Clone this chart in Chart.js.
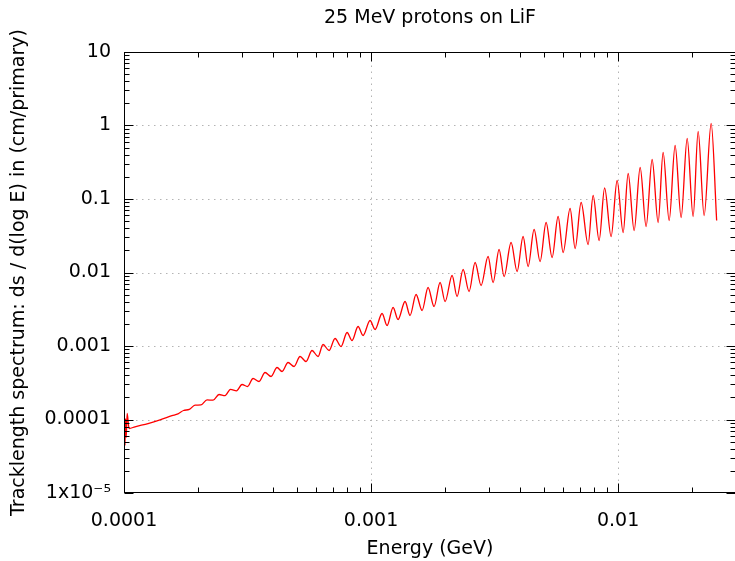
<!DOCTYPE html>
<html>
<head>
<meta charset="utf-8">
<title>25 MeV protons on LiF</title>
<script src="https://cdn.jsdelivr.net/npm/chart.js@4.4.1/dist/chart.umd.min.js"></script>
<style>
    html, body { margin: 0; padding: 0; background: #fff; overflow: hidden; }
    #wrap { width: 737px; height: 561px; }
</style>
</head>
<body>
<div id="wrap"><canvas id="chart" width="737" height="561"></canvas></div>
<script>
// Energy (GeV) and tracklength (cm/primary), peak/trough by peak/trough
const energy = [
    0.00010019, 0.00010056, 0.00010094, 0.00010141, 0.00010207, 0.0001030, 0.0001048,
    0.0001108, 0.0001251, 0.0001399, 0.0001564, 0.0001654, 0.0001741, 0.0001838,
    0.0001939, 0.0002050, 0.0002168, 0.0002293, 0.0002424, 0.0002564, 0.0002699,
    0.0002854, 0.0003004, 0.0003162, 0.0003329, 0.0003520, 0.0003723, 0.0003937,
    0.0004163, 0.0004362, 0.0004613, 0.0004878, 0.0005159, 0.0005455, 0.0005769,
    0.0006101, 0.0006392, 0.0006760, 0.0007149, 0.0007560, 0.0007995, 0.0008377,
    0.0008858, 0.0009281, 0.0009907, 0.001038, 0.001108, 0.001161, 0.001228,
    0.001286, 0.001373, 0.001438, 0.001521, 0.001609, 0.001701, 0.001799,
    0.001903, 0.001994, 0.002128, 0.002229, 0.002358, 0.002493, 0.002637,
    0.002788, 0.002976, 0.003118, 0.003298, 0.003455, 0.003688, 0.003900,
    0.004125, 0.004322, 0.004570, 0.004833, 0.005111, 0.005405, 0.005716,
    0.005989, 0.006392, 0.006698, 0.007083, 0.007560, 0.007921, 0.008377,
    0.008817, 0.009368, 0.009907, 0.01048, 0.01098, 0.01161, 0.01228,
    0.01298, 0.01373, 0.01452, 0.01521, 0.01609, 0.01701, 0.01799,
    0.01903, 0.02012, 0.02108, 0.02229, 0.02380, 0.02505
];
const tracklength = [
    3.67e-5, 8.55e-5, 4.43e-5, 1.03e-4, 5.69e-5, 1.207e-4, 7.54e-5,
    7.96e-5, 8.82e-5, 9.85e-5, 1.127e-4, 1.196e-4, 1.326e-4, 1.372e-4,
    1.565e-4, 1.579e-4, 1.848e-4, 1.830e-4, 2.188e-4, 2.114e-4, 2.576e-4,
    2.458e-4, 2.994e-4, 2.812e-4, 3.612e-4, 3.289e-4, 4.361e-4, 3.846e-4,
    5.099e-4, 4.499e-4, 5.964e-4, 5.261e-4, 7.196e-4, 6.153e-4, 8.686e-4,
    7.196e-4, 1.048e-3, 8.686e-4, 1.265e-3, 9.844e-4, 1.527e-3, 1.188e-3,
    1.842e-3, 1.390e-3, 2.223e-3, 1.677e-3, 2.768e-3, 1.901e-3, 3.341e-3,
    2.294e-3, 4.031e-3, 2.600e-3, 5.020e-3, 3.041e-3, 6.250e-3, 3.447e-3,
    7.310e-3, 4.031e-3, 9.103e-3, 4.715e-3, 1.099e-2, 5.514e-3, 1.368e-2,
    6.654e-3, 1.651e-2, 7.310e-3, 2.056e-2, 8.822e-3, 2.560e-2, 1.032e-2,
    3.089e-2, 1.207e-2, 3.846e-2, 1.412e-2, 4.790e-2, 1.600e-2, 5.779e-2,
    1.871e-2, 7.425e-2, 2.121e-2, 8.962e-2, 2.404e-2, 0.1116, 2.725e-2,
    0.1412, 3.089e-2, 0.1785, 3.501e-2, 0.2223, 3.728e-2, 0.2683,
    4.226e-2, 0.3447, 4.790e-2, 0.4293, 5.099e-2, 0.5345, 5.602e-2,
    0.6654, 5.779e-2, 0.8287, 5.964e-2, 1.065, 5.099e-2
];

// Axis ticks
const xTicks = [0.0001, 0.001, 0.01];
const xTickLabels = ['0.0001', '0.001', '0.01'];
const yTicks = [1e-5, 1e-4, 1e-3, 0.01, 0.1, 1, 10];
const yTickLabels = ['1x10\u207B\u2075', '0.0001', '0.001', '0.01', '0.1', '1', '10'];

const X_MIN = 0.0001, X_MAX = 0.03;
const Y_MIN = 1e-5, Y_MAX = 10;

Chart.defaults.font.family = "'DejaVu Sans', sans-serif";
Chart.defaults.font.size = 19;
Chart.defaults.color = '#000';

// gnuplot style box: dotted grid at decades, inward ticks on all four sides
const framePlugin = {
    id: 'frame',
    beforeDatasetsDraw(chart) {
        const { ctx, chartArea: a, scales: { x, y } } = chart;
        ctx.save();
        ctx.strokeStyle = '#b4b4b4';
        ctx.lineWidth = 1;
        ctx.setLineDash([1.5, 4.5]);
        xTicks.forEach(v => {
            if (v <= X_MIN) return;
            const px = Math.round(x.getPixelForValue(v)) + 0.5;
            ctx.beginPath(); ctx.moveTo(px, a.bottom); ctx.lineTo(px, a.top); ctx.stroke();
        });
        yTicks.forEach(v => {
            if (v <= Y_MIN || v >= Y_MAX) return;
            const py = Math.round(y.getPixelForValue(v)) + 0.5;
            ctx.beginPath(); ctx.moveTo(a.left, py); ctx.lineTo(a.right, py); ctx.stroke();
        });
        ctx.restore();
    },
    afterDatasetsDraw(chart) {
        const { ctx, chartArea: a, scales: { x, y } } = chart;
        const L = Math.round(a.left) + 0.5, R = Math.round(a.right) - 0.5;
        const T = Math.round(a.top) + 0.5, B = Math.round(a.bottom) - 0.5;
        ctx.save();
        ctx.strokeStyle = '#000';
        ctx.lineWidth = 1;
        ctx.beginPath();
        for (let d = -5; d <= 1; d++) {
            for (let k = 1; k <= 9; k++) {
                const v = k * Math.pow(10, d);
                const len = k === 1 ? 9 : 5;
                if (v >= X_MIN * 0.999 && v <= X_MAX * 1.001) {
                    const px = Math.round(x.getPixelForValue(v)) + 0.5;
                    ctx.moveTo(px, B); ctx.lineTo(px, B - len);
                    ctx.moveTo(px, T); ctx.lineTo(px, T + len);
                }
                if (v >= Y_MIN * 0.999 && v <= Y_MAX * 1.001) {
                    const py = Math.round(y.getPixelForValue(v)) + 0.5;
                    ctx.moveTo(L, py); ctx.lineTo(L + len, py);
                    ctx.moveTo(R, py); ctx.lineTo(R - len, py);
                }
            }
        }
        ctx.stroke();
        ctx.strokeRect(L, T, R - L, B - T);
        ctx.restore();
    }
};

const ctx = document.getElementById('chart');
new Chart(ctx, {
    type: 'line',
    data: {
        datasets: [{
            data: energy.map((e, i) => ({ x: e, y: tracklength[i] })),
            borderColor: '#ff0000',
            borderWidth: 1.3,
            pointRadius: 0,
            fill: false,
            cubicInterpolationMode: 'monotone'
        }]
    },
    options: {
        responsive: false,
        animation: false,
        layout: { padding: { left: 0, right: 1, top: 0, bottom: 0 } },
        plugins: {
            legend: { display: false },
            tooltip: { enabled: false },
            title: {
                display: true,
                text: '25 MeV protons on LiF',
                fullSize: false,
                font: { size: 19, weight: 'normal' },
                color: '#000',
                padding: { top: 6.6, bottom: 22.6 }
            }
        },
        scales: {
            x: {
                type: 'logarithmic',
                min: X_MIN,
                max: X_MAX,
                grid: { display: false, drawTicks: false },
                border: { display: false },
                afterBuildTicks: scale => { scale.ticks = xTicks.map(v => ({ value: v })); },
                afterFit: scale => { scale.height = 68; },
                ticks: {
                    autoSkip: false,
                    maxRotation: 0,
                    padding: 17,
                    callback: (v, i) => xTickLabels[i]
                },
                title: {
                    display: true,
                    text: 'Energy (GeV)',
                    padding: { top: 0, bottom: 0.6 }
                }
            },
            y: {
                type: 'logarithmic',
                min: Y_MIN,
                max: Y_MAX,
                grid: { display: false, drawTicks: false },
                border: { display: false },
                afterBuildTicks: scale => { scale.ticks = yTicks.map(v => ({ value: v })); },
                afterFit: scale => { scale.width = 124; },
                ticks: {
                    autoSkip: false,
                    padding: 13,
                    callback: (v, i) => yTickLabels[i]
                },
                title: {
                    display: true,
                    text: 'Tracklength spectrum: ds / d(log E) in (cm/primary)',
                    padding: { top: 7.6, bottom: 0 }
                }
            }
        }
    },
    plugins: [framePlugin]
});
</script>
</body>
</html>
